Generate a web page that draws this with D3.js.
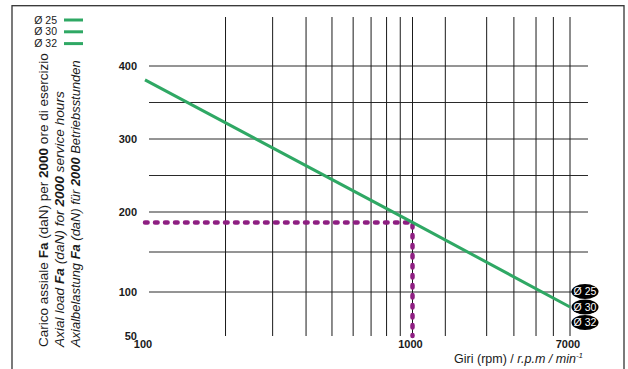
<!DOCTYPE html>
<html><head><meta charset="utf-8">
<script src="https://cdn.jsdelivr.net/npm/d3@7/dist/d3.min.js"></script>
<style>
html,body{margin:0;padding:0;background:#fff;}
svg{display:block;font-family:"Liberation Sans",Arial,Helvetica,sans-serif;}
</style></head>
<body>
<svg id="c" width="628" height="369"></svg>
<script>
// ---- data ----
const series = ["Ø 25", "Ø 30", "Ø 32"];
const rpm = [100, 1000, 7000];
const load = [381, 187, 83];            // daN, shared curve for all diameters
const workRpm = [100, 1000, 1000];      // example reading (dashed path)
const workLoad = [187, 187, 50];
const xTickLabels = [100, 1000, 7000];
const xGridValues = [200, 300, 400, 500, 600, 700, 800, 900, 1000, 1500, 2500, 3500, 4600, 5700, 7000];
const yTickLabels = [400, 300, 200, 100, 50];
const yGridValues = [400, 350, 300, 250, 200, 150, 100];

// ---- layout ----
const svg = d3.select("#c");
const plotTop = 17, plotBottom = 336, lineLeft = 149, lineRight = 588;
const x = d3.scaleLog().domain([100, 1000, 7000]).range([145, 412.5, 570]);
const y = d3.scaleLinear().domain([50, 100, 200, 400]).range([336, 292, 212, 66]);
const green = "#2fa864", purple = "#8e1f82", ink = "#1a1a1a";

// frame
svg.append("rect").attr("x", 12).attr("y", 5.7).attr("width", 612).attr("height", 380)
  .attr("fill", "none").attr("stroke", "#333").attr("stroke-width", 1.3);

// grid
svg.append("g").selectAll("line").data(yGridValues).join("line")
  .attr("x1", lineLeft).attr("x2", lineRight)
  .attr("y1", d => y(d)).attr("y2", d => y(d))
  .attr("stroke", "#2a2a2a").attr("stroke-width", 1);
svg.append("g").selectAll("line").data(xGridValues).join("line")
  .attr("x1", d => x(d)).attr("x2", d => x(d))
  .attr("y1", plotTop).attr("y2", plotBottom)
  .attr("stroke", "#1a1a1a").attr("stroke-width", 1);

// dashed reading
const pts = workRpm.map((r, i) => [r, workLoad[i]]);
svg.append("path").attr("d", d3.line().x(d => x(d[0])).y(d => y(d[1]))(pts))
  .attr("fill", "none").attr("stroke", purple).attr("stroke-width", 4.5)
  .attr("stroke-dasharray", "2.6,7.4").attr("stroke-linecap", "round").attr("stroke-linejoin", "round");

// curve
const cpts = rpm.map((r, i) => [r, load[i]]);
svg.append("path").attr("d", d3.line().x(d => x(d[0])).y(d => y(d[1]))(cpts))
  .attr("fill", "none").attr("stroke", green).attr("stroke-width", 3);

// y tick labels
svg.append("g").selectAll("text").data(yTickLabels).join("text")
  .attr("x", 137).attr("y", d => y(d)).attr("dy", "0.35em")
  .attr("text-anchor", "end").attr("font-size", 11).attr("font-weight", "bold").attr("fill", ink)
  .text(d => d);

// x tick labels
svg.append("g").selectAll("text").data(xTickLabels).join("text")
  .attr("x", d => x(d) - 2).attr("y", 344.5).attr("dy", "0.35em")
  .attr("text-anchor", "middle").attr("font-size", 11).attr("font-weight", "bold").attr("fill", ink)
  .text(d => d);

// x title
const xt = svg.append("text").attr("x", 583).attr("y", 362.5).attr("text-anchor", "end")
  .attr("font-size", 12.5).attr("fill", ink);
xt.append("tspan").text("Giri (rpm) / ");
xt.append("tspan").attr("font-style", "italic").text("r.p.m / min");
xt.append("tspan").attr("font-style", "italic").attr("font-size", 8).attr("dy", -4.5).text("-1");

// y title (three languages); each line sized to its length in the reference
const titles = [
  {x: 43.5, len: 294, italic: false, parts: [["Carico assiale ", 0], ["Fa", 1], [" (daN) per ", 0], ["2000", 1], [" ore di esercizio", 0]]},
  {x: 59.5, len: 256, italic: true, parts: [["Axial load ", 0], ["Fa", 1], [" (daN) for ", 0], ["2000", 1], [" service hours", 0]]},
  {x: 75.5, len: 287, italic: true, parts: [["Axialbelastung ", 0], ["Fa", 1], [" (daN) für ", 0], ["2000", 1], [" Betriebsstunden", 0]]}
];
titles.forEach(t => {
  const tx = svg.append("text").attr("transform", `translate(${t.x},347) rotate(-90)`)
    .attr("dy", "0.35em").attr("font-size", 13).attr("fill", ink)
    .attr("font-style", t.italic ? "italic" : "normal");
  t.parts.forEach(p => tx.append("tspan").attr("font-weight", p[1] ? "bold" : "normal").text(p[0]));
  const w = tx.node().getComputedTextLength();
  const fs = Math.max(11, Math.min(14.5, 13 * t.len / w));
  tx.attr("font-size", fs);
});

// legend (top-left)
const lg = svg.append("g");
series.forEach((s, i) => {
  const ly = 20 + i * 11.8;
  lg.append("text").attr("x", 57).attr("y", ly).attr("dy", "0.35em").attr("text-anchor", "end")
    .attr("font-size", 10.5).attr("fill", ink).text(s);
  lg.append("line").attr("x1", 64).attr("x2", 83).attr("y1", ly).attr("y2", ly)
    .attr("stroke", green).attr("stroke-width", 3);
});

// end labels (pills)
const ex = x(rpm[rpm.length - 1]) + 15, ey = y(load[load.length - 1]);
series.forEach((s, i) => {
  const cy = ey + (i - 1) * 15.5;
  svg.append("ellipse").attr("cx", ex).attr("cy", cy).attr("rx", 13.5).attr("ry", 7.5).attr("fill", "#000");
  svg.append("text").attr("x", ex).attr("y", cy).attr("dy", "0.36em").attr("text-anchor", "middle")
    .attr("font-size", 10.5).attr("fill", "#fff").text(s);
});
</script>
</body></html>
